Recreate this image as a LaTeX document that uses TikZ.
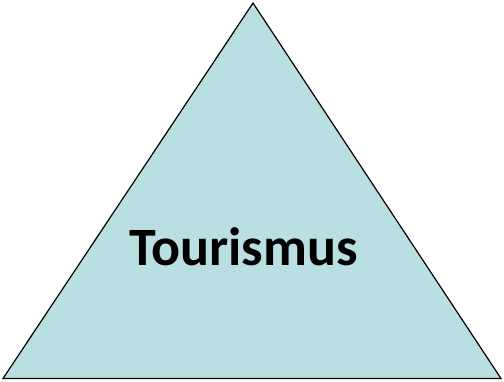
\documentclass[tikz,border=0pt]{standalone}
\usepackage{fontspec}
\setsansfont{Carlito}
\usetikzlibrary{positioning, calc}
\definecolor{caqua}{HTML}{B9DFE3}
\tikzset{
  every picture/.style={font=\sffamily, line width=1.2pt, x=1pt, y=-1pt},
  pyramid/.style={draw=black, fill=caqua, line join=miter},
  label/.style={font=\sffamily\bfseries\fontsize{54}{62}\selectfont, text=black, inner sep=0pt, anchor=base},
}
\begin{document}
\begin{tikzpicture}
  % canvas in pixels of the reference
  \useasboundingbox (0,0) rectangle (504,381);
  \coordinate (apex) at (253,3);
  \coordinate (left) at (3,378.5);
  \coordinate (right) at (501,378.5);
  \draw[pyramid] (apex) -- (left) -- (right) -- cycle;
  \node[label] (tourismus) at (243.5,265.5) {Tourismus};
\end{tikzpicture}
\end{document}
